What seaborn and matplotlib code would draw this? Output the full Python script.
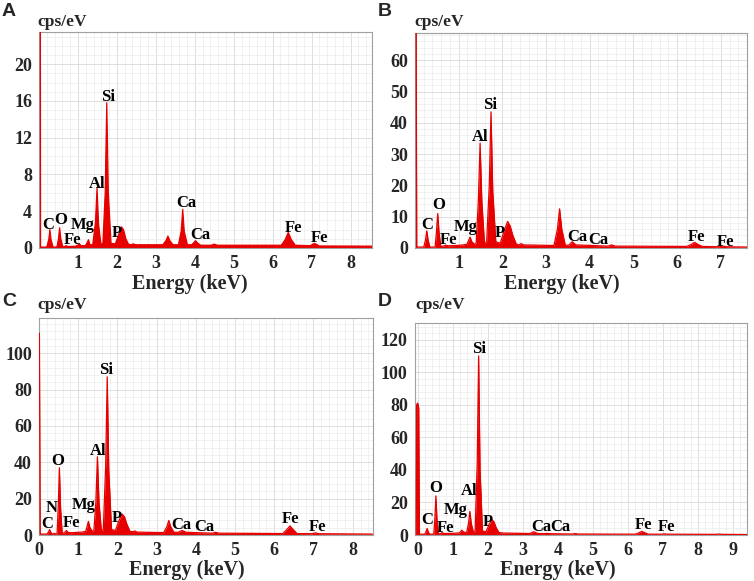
import matplotlib
matplotlib.use("Agg")
import matplotlib.pyplot as plt
import seaborn as sns
import numpy as np
import pandas as pd
from matplotlib.ticker import MultipleLocator

# ---------------- data ----------------
spec_A = [(0.00, 100), (0.02, 100), (0.04, 0.1),
          (0.20, 0.1), (0.25, 0.9), (0.28, 2.0), (0.31, 0.9), (0.36, 0.1),
          (0.46, 0.1), (0.50, 1.0), (0.53, 2.2), (0.56, 1.0), (0.61, 0.15),
          (0.65, 0.15), (0.70, 0.25), (0.75, 0.15),
          (0.95, 0.2), (1.01, 0.35), (1.04, 0.45), (1.08, 0.25),
          (1.19, 0.25), (1.24, 0.6), (1.27, 0.9), (1.31, 0.35),
          (1.38, 0.35), (1.45, 2.8), (1.49, 6.5), (1.53, 2.6), (1.59, 0.4),
          (1.64, 0.5), (1.70, 6.0), (1.74, 15.8), (1.78, 6.0), (1.85, 0.5),
          (1.96, 0.45), (2.05, 1.5), (2.12, 2.3), (2.17, 2.0), (2.23, 1.0), (2.30, 0.4),
          (2.37, 0.35), (2.42, 0.45), (2.48, 0.35),
          (3.18, 0.35), (3.26, 0.8), (3.31, 1.3), (3.36, 0.8), (3.44, 0.35),
          (3.58, 0.35), (3.65, 1.8), (3.69, 4.2), (3.73, 1.8), (3.81, 0.35),
          (3.92, 0.35), (3.98, 0.6), (4.02, 0.8), (4.07, 0.55), (4.15, 0.3),
          (4.42, 0.3), (4.50, 0.42), (4.58, 0.3),
          (6.22, 0.3), (6.32, 0.9), (6.40, 1.7), (6.48, 0.9), (6.58, 0.3),
          (6.96, 0.25), (7.03, 0.4), (7.07, 0.5), (7.12, 0.4), (7.20, 0.22),
          (8.60, 0.2)]

spec_B = [(0.00, 100), (0.02, 100), (0.04, 0.3),
          (0.20, 0.3), (0.24, 2.5), (0.27, 5.5), (0.30, 2.5), (0.34, 0.3),
          (0.46, 0.3), (0.49, 5.0), (0.52, 11.0), (0.55, 5.0), (0.59, 0.5),
          (0.65, 0.6), (0.70, 0.9), (0.76, 0.7),
          (0.95, 0.8), (1.10, 1.0), (1.19, 1.2), (1.23, 2.5), (1.26, 3.5), (1.30, 2.0), (1.36, 1.2),
          (1.40, 1.5), (1.45, 15.0), (1.49, 33.5), (1.53, 15.0), (1.59, 1.5),
          (1.64, 2.0), (1.70, 20.0), (1.74, 43.5), (1.78, 18.0), (1.85, 2.0),
          (1.95, 1.5), (2.04, 5.5), (2.12, 8.5), (2.18, 7.0), (2.24, 4.0), (2.32, 1.2),
          (2.38, 1.0), (2.43, 1.4), (2.48, 1.0),
          (3.18, 0.8), (3.26, 6.0), (3.31, 12.5), (3.36, 6.0), (3.44, 0.9),
          (3.52, 0.9), (3.60, 2.0), (3.68, 1.0),
          (4.42, 0.6), (4.50, 1.0), (4.58, 0.6),
          (6.22, 0.5), (6.32, 1.1), (6.40, 1.8), (6.48, 1.1), (6.58, 0.5),
          (6.96, 0.4), (7.05, 0.6), (7.14, 0.4),
          (7.60, 0.3)]

spec_C = [(0.00, 111), (0.01, 111), (0.03, 0.5),
          (0.20, 0.5), (0.24, 1.5), (0.27, 3.0), (0.30, 1.5), (0.34, 0.6),
          (0.37, 0.6), (0.39, 0.9), (0.42, 0.6),
          (0.46, 0.6), (0.49, 15.0), (0.52, 37.0), (0.55, 15.0), (0.59, 1.0),
          (0.65, 1.2), (0.70, 2.5), (0.75, 1.3),
          (0.85, 1.3), (1.10, 1.6), (1.19, 2.0), (1.23, 5.0), (1.26, 7.5), (1.30, 4.0), (1.36, 2.0),
          (1.40, 2.5), (1.45, 18.0), (1.49, 43.0), (1.53, 18.0), (1.59, 2.5),
          (1.64, 3.0), (1.70, 38.0), (1.74, 87.0), (1.78, 35.0), (1.85, 3.0),
          (1.95, 2.5), (2.04, 8.0), (2.12, 11.5), (2.18, 10.0), (2.24, 6.0), (2.32, 2.0),
          (2.40, 1.8), (2.45, 2.2), (2.50, 1.6),
          (3.18, 1.3), (3.26, 4.5), (3.31, 8.0), (3.36, 4.5), (3.44, 1.5),
          (3.55, 1.5), (3.65, 2.5), (3.75, 1.5),
          (4.42, 1.0), (4.50, 1.5), (4.58, 1.0),
          (6.22, 0.8), (6.32, 3.0), (6.40, 5.0), (6.48, 3.0), (6.58, 0.8),
          (6.96, 0.7), (7.05, 1.2), (7.14, 0.7),
          (8.50, 0.5)]

spec_D = [(-0.04, 0.0), (-0.03, 80.0), (0.00, 81.0), (0.03, 78.0), (0.05, 0.5),
          (0.20, 0.5), (0.24, 2.0), (0.27, 4.0), (0.30, 2.0), (0.34, 0.5),
          (0.46, 0.5), (0.49, 10.0), (0.52, 24.0), (0.55, 10.0), (0.59, 0.8),
          (0.65, 0.8), (0.70, 1.5), (0.75, 0.9),
          (1.00, 1.0), (1.19, 1.3), (1.23, 2.2), (1.26, 3.0), (1.30, 2.0), (1.36, 1.5),
          (1.40, 1.8), (1.45, 7.0), (1.49, 14.5), (1.53, 7.0), (1.59, 1.8),
          (1.64, 2.5), (1.70, 45.0), (1.74, 110.0), (1.78, 40.0), (1.85, 2.5),
          (1.95, 2.0), (2.04, 6.5), (2.12, 9.5), (2.18, 8.0), (2.24, 4.5), (2.32, 1.5),
          (2.45, 1.2), (3.20, 0.9), (3.26, 1.5), (3.31, 2.0), (3.37, 1.4), (3.45, 0.9),
          (3.60, 0.8), (3.69, 1.0), (3.78, 0.8),
          (4.42, 0.6), (4.50, 0.9), (4.58, 0.6),
          (6.22, 0.5), (6.32, 1.4), (6.40, 2.2), (6.48, 1.4), (6.58, 0.5),
          (6.96, 0.5), (7.05, 0.7), (7.14, 0.5),
          (8.50, 0.4), (8.60, 0.6), (8.70, 0.4),
          (9.40, 0.3)]

# peak labels: (text, energy, cps)
labels_A = [("C", 0.23, 2.5), ("O", 0.56, 3.0), ("Fe", 0.87, 0.9), ("Mg", 1.12, 2.5),
            ("Al", 1.50, 7.0), ("Si", 1.77, 16.4), ("P", 2.00, 1.6), ("Ca", 3.77, 4.9),
            ("Ca", 4.13, 1.4), ("Fe", 6.54, 2.2), ("Fe", 7.20, 1.1)]
labels_B = [("C", 0.27, 7.3), ("O", 0.54, 13.7), ("Fe", 0.76, 2.6), ("Mg", 1.15, 6.8),
            ("Al", 1.49, 35.6), ("Si", 1.72, 45.7), ("P", 1.95, 4.7), ("Ca", 3.71, 3.6),
            ("Ca", 4.20, 2.6), ("Fe", 6.45, 3.4), ("Fe", 7.10, 2.0)]
labels_C = [("C", 0.20, 5.8), ("N", 0.31, 15.0), ("O", 0.47, 40.9), ("Fe", 0.83, 6.4),
            ("Mg", 1.13, 16.5), ("Al", 1.51, 46.4), ("Si", 1.71, 90.8), ("P", 1.98, 9.2),
            ("Ca", 3.64, 5.5), ("Ca", 4.21, 4.6), ("Fe", 6.42, 8.6), ("Fe", 7.10, 4.6)]
labels_D = [("C", 0.27, 9.2), ("O", 0.52, 28.7), ("Fe", 0.80, 4.3), ("Mg", 1.09, 15.5),
            ("Al", 1.47, 27.0), ("Si", 1.74, 114.3), ("P", 2.00, 8.2), ("Ca", 3.53, 5.1),
            ("Ca", 4.07, 5.1), ("Fe", 6.45, 6.2), ("Fe", 7.10, 4.7)]

panel_letters = ["A", "B", "C", "D"]
x_ticks_A = [1, 2, 3, 4, 5, 6, 7, 8]
x_ticks_B = [1, 2, 3, 4, 5, 6, 7]
x_ticks_C = [0, 1, 2, 3, 4, 5, 6, 7, 8]
x_ticks_D = [0, 1, 2, 3, 4, 5, 6, 7, 8, 9]
y_ticks_A = [0, 4, 8, 12, 16, 20]
y_ticks_B = [0, 10, 20, 30, 40, 50, 60]
y_ticks_C = [0, 20, 40, 60, 80, 100]
y_ticks_D = [0, 20, 40, 60, 80, 100, 120]

# ---------------- style ----------------
sns.set_style("white")
plt.rcParams['font.family'] = ['Liberation Serif', 'DejaVu Serif']

W, H = 754, 581
fig = plt.figure(figsize=(W / 100, H / 100), dpi=100)
RED = "#e60000"


def px_ax(left, top, right, bottom):
    return [left / W, 1 - bottom / H, (right - left) / W, (bottom - top) / H]


panels = [
    dict(spec=spec_A, labels=labels_A, xt=x_ticks_A, yt=y_ticks_A, xlim=(0.0, 8.55), ylim=(0, 23.5),
         ygrid=1, box=(39, 32, 372, 248), letter=(9, 12), cps=(37, 22), elab=(190, 284)),
    dict(spec=spec_B, labels=labels_B, xt=x_ticks_B, yt=y_ticks_B, xlim=(0.0, 7.6), ylim=(0, 68.7),
         ygrid=2, box=(415, 33, 747, 248), letter=(385, 12), cps=(414, 22), elab=(562, 284)),
    dict(spec=spec_C, labels=labels_C, xt=x_ticks_C, yt=y_ticks_C, xlim=(0.0, 8.51), ylim=(0, 119.4),
         ygrid=4, box=(39, 318, 372.7, 535), letter=(9, 302), cps=(37, 305), elab=(187, 570)),
    dict(spec=spec_D, labels=labels_D, xt=x_ticks_D, yt=y_ticks_D, xlim=(-0.085, 9.4), ylim=(0, 130),
         ygrid=4, box=(414.7, 323.3, 747, 535), letter=(385, 302), cps=(415, 305), elab=(558, 570)),
]

for letter, p in zip(panel_letters, panels):
    ax = fig.add_axes(px_ax(*p["box"]))
    df = pd.DataFrame(p["spec"], columns=["energy", "cps"])
    ax.fill_between(df["energy"], 0, df["cps"], color=RED, linewidth=0, zorder=2)
    sns.lineplot(data=df, x="energy", y="cps", ax=ax, color=RED, linewidth=0.9,
                 sort=False, estimator=None, zorder=3)
    ax.set_xlim(*p["xlim"])
    ax.set_ylim(*p["ylim"])
    ax.set_xticks(p["xt"])
    ax.set_yticks(p["yt"])
    ax.xaxis.set_minor_locator(MultipleLocator(0.2))
    ax.yaxis.set_minor_locator(MultipleLocator(p["ygrid"]))
    ax.grid(which="major", color="#d9d9d9", linewidth=0.6, zorder=0)
    ax.grid(which="minor", color="#ececec", linewidth=0.5, zorder=0)
    ax.set_axisbelow(True)
    for s in ax.spines.values():
        s.set_color("#a0a0a0")
        s.set_linewidth(0.8)
    ax.tick_params(axis="both", which="both", direction="out", color="#a0a0a0")
    ax.tick_params(axis="x", which="major", length=0, pad=5)
    ax.tick_params(axis="x", which="minor", length=0)
    ax.tick_params(axis="y", which="major", length=4, pad=1)
    ax.tick_params(axis="y", which="minor", length=2)
    ax.set_xticklabels([str(t) for t in p["xt"]], fontsize=13, fontweight="bold")
    ax.set_yticklabels([str(t) for t in p["yt"]], fontsize=13, fontweight="bold")
    ax.set_xlabel("")
    ax.set_ylabel("")
    for txt, xx, yy in p["labels"]:
        ax.text(xx, yy, txt, ha="center", va="center", fontsize=12, fontweight="bold",
                color="black", zorder=4)
    lx, ly = p["letter"]
    fig.text(lx / W, 1 - ly / H, letter, ha="center", va="center", fontsize=14,
             fontweight="bold", family="Liberation Sans")
    cx, cy = p["cps"]
    fig.text(cx / W, 1 - cy / H, "cps/eV", ha="left", va="center", fontsize=12.5, fontweight="bold")
    ex, ey = p["elab"]
    fig.text(ex / W, 1 - ey / H, "Energy (keV)", ha="center", va="center", fontsize=14.5,
             fontweight="bold")

fig.savefig("out.png", dpi=100)
